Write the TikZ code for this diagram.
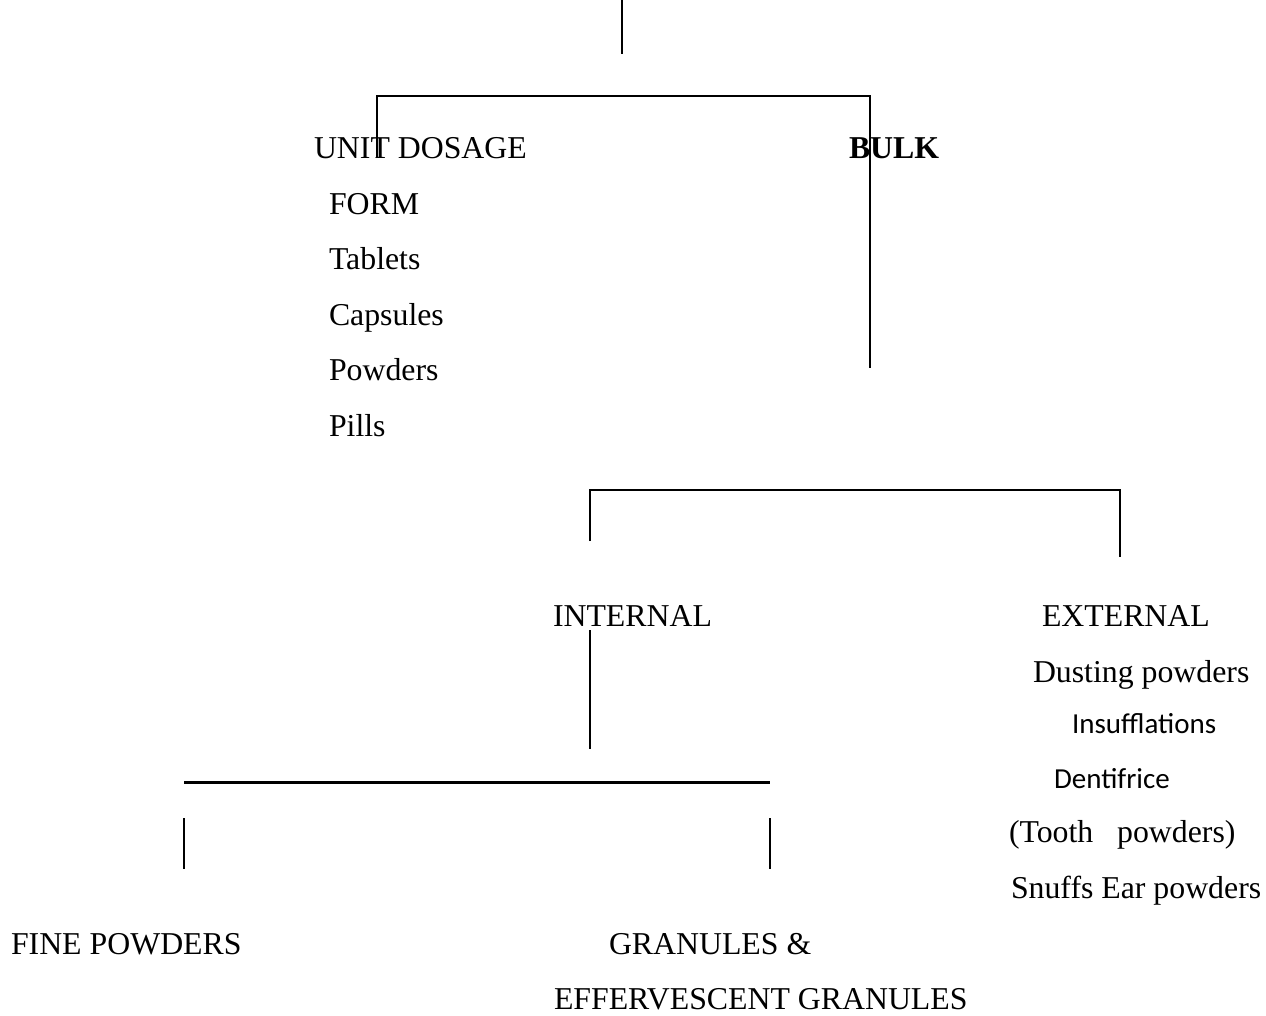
\documentclass[tikz,border=0pt]{standalone}
\usepackage{fontspec}
\setmainfont{Liberation Serif}
\newfontfamily\calibrifont{Carlito}
\begin{document}
\begin{tikzpicture}[x=1pt,y=-1pt,line width=2pt,
	every node/.style={inner sep=0pt,anchor=base west,font=\fontsize{31.8}{38}\selectfont},
	sanslabel/.style={font=\fontsize{29}{34}\selectfont\calibrifont}]
	\useasboundingbox (0,0) rectangle (1266,1015);
	% first split
	\coordinate (root) at (622,0);
	\coordinate (rootend) at (622,54);
	\coordinate (unittop) at (377,96);
	\coordinate (unitend) at (377,158);
	\coordinate (bulktop) at (870,96);
	\coordinate (bulkend) at (870,368);
	\draw (root) -- (rootend);
	\draw (unitend) -- (unittop) -- (bulktop) -- (bulkend);
	\node (unit) at (313,158) {UNIT DOSAGE};
	\node (bulk) at (848,158) {\textbf{BULK}};
	\foreach \t/\y [count=\i] in {FORM/214, Tablets/269, Capsules/325, Powders/380, Pills/436}
		\node (unit\i) at (328,\y) {\t};
	% bulk split
	\coordinate (inttop) at (590,490);
	\coordinate (intend) at (590,541);
	\coordinate (exttop) at (1120,490);
	\coordinate (extend) at (1120,557);
	\draw (intend) -- (inttop) -- (exttop) -- (extend);
	\node (internal) at (552,626) {INTERNAL};
	\node (external) at (1041,626) {EXTERNAL};
	\node (ext1) at (1032,682) {Dusting powders};
	\node[sanslabel] (ext2) at (1071,733) {Insufflations};
	\node[sanslabel] (ext3) at (1053,788) {Dentifrice};
	\node (ext4) at (1008,842) {(Tooth\ \ \ powders)};
	\node (ext5) at (1010,898) {Snuffs Ear powders};
	% internal split
	\coordinate (intstem) at (590,630);
	\coordinate (intstemend) at (590,749);
	\draw (intstem) -- (intstemend);
	\coordinate (fineend) at (184,782);
	\coordinate (granend) at (770,782);
	\draw[line width=3pt] (fineend) -- (granend);
	\coordinate (finetop) at (184,818);
	\coordinate (finebot) at (184,869);
	\coordinate (grantop) at (770,818);
	\coordinate (granbot) at (770,869);
	\draw (finetop) -- (finebot) (grantop) -- (granbot);
	\node (fine) at (10,954) {FINE POWDERS};
	\node (gran) at (608,954) {GRANULES \&};
	\node (eff) at (553,1009) {EFFERVESCENT GRANULES};
\end{tikzpicture}
\end{document}
